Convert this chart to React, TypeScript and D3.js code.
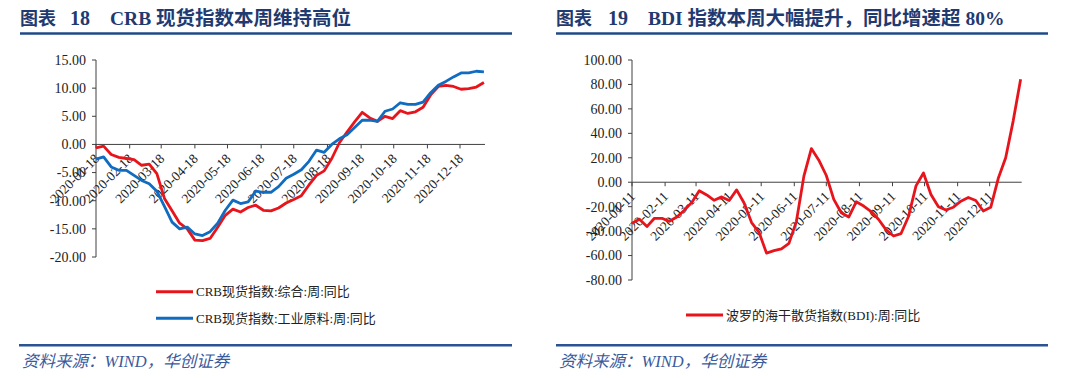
import React from "react";
import * as d3 from "d3";

// ---------- DATA ----------
const crbStart = "2020-01-18";
const crbComposite = [
  -0.6, -0.3, -1.8, -2.3, -2.5, -2.7, -3.7, -3.5, -5.2, -9.6,
  -11.8, -14.0, -15.0, -17.0, -17.1, -16.7, -14.7, -12.6, -11.5, -12.0,
  -11.2, -10.8, -11.7, -11.8, -11.3, -10.4, -9.8, -9.1, -7.2, -5.5,
  -4.7, -2.5, 0.3, 2.2, 4.0, 5.7, 4.7, 4.1, 5.0, 4.6,
  6.0, 5.5, 5.8, 6.6, 8.8, 10.3, 10.5, 10.3, 9.8, 9.9,
  10.2, 11.0,
];
const crbIndustrial = [
  -2.6, -2.2, -4.0, -4.6, -4.6, -5.5, -6.4, -7.0, -8.3, -11.0,
  -13.8, -15.0, -14.7, -15.9, -16.2, -15.5, -14.0, -11.7, -9.9, -10.5,
  -10.2, -8.3, -8.5, -8.5, -7.5, -6.0, -5.3, -4.5, -3.0, -1.0,
  -1.4, 0.0, 1.0, 1.7, 3.0, 4.3, 4.3, 4.1, 5.9, 6.3,
  7.4, 7.1, 7.1, 7.5, 9.2, 10.5, 11.2, 12.0, 12.7, 12.7,
  13.0, 12.9,
];
const crbTickLabels = [
  "2020-01-18", "2020-02-18", "2020-03-18", "2020-04-18", "2020-05-18", "2020-06-18",
  "2020-07-18", "2020-08-18", "2020-09-18", "2020-10-18", "2020-11-18", "2020-12-18",
];
const crbYTicks = [15, 10, 5, 0, -5, -10, -15, -20];

const bdiStart = "2020-01-11";
const bdiYoY = [
  -33.6, -30.3, -36.3, -29.5, -29.5, -32.0, -28.5, -23.0, -16.5, -7.0,
  -10.4, -14.8, -12.0, -15.0, -6.3, -17.0, -33.0, -41.0, -58.0, -56.0,
  -54.5, -50.0, -32.0, 5.0, 27.5, 18.0, 5.5, -14.0, -25.0, -28.5,
  -16.0, -19.5, -24.0, -30.5, -39.0, -44.0, -42.0, -28.0, -3.0, 7.5,
  -10.0, -20.0, -22.7, -20.5, -15.5, -12.5, -15.0, -23.5, -20.5, 3.0,
  20.0, 50.0, 84.2,
];
const bdiTickLabels = [
  "2020-01-11", "2020-02-11", "2020-03-11", "2020-04-11", "2020-05-11", "2020-06-11",
  "2020-07-11", "2020-08-11", "2020-09-11", "2020-10-11", "2020-11-11", "2020-12-11",
];
const bdiYTicks = [100, 80, 60, 40, 20, 0, -20, -40, -60, -80];

const leftTitleNo = "图表 18";
const leftTitle = "CRB 现货指数本周维持高位";
const rightTitleNo = "图表 19";
const rightTitle = "BDI 指数本周大幅提升，同比增速超 80%";
const legendLeft = ["CRB现货指数:综合:周:同比", "CRB现货指数:工业原料:周:同比"];
const legendRight = "波罗的海干散货指数(BDI):周:同比";
const sourceText = "资料来源：WIND，华创证券";

// ---------- STYLE ----------
const RED = "#E8141C";
const BLUE = "#0F6CC0";
const NAVY = "#1F3A70";
const AXIS = "#404040";
const SERIF = "'Liberation Serif', 'Times New Roman', 'Noto Sans CJK SC', serif";
const TITLE_FONT = "'Liberation Serif', 'Noto Sans CJK SC', serif";

const parse = d3.timeParse("%Y-%m-%d");
const weekly = (start: string, n: number) =>
  d3.range(n).map((i) => d3.timeDay.offset(parse(start) as Date, 7 * i));

type Series = { values: number[]; color: string };

function Panel(props: {
  x0: number; x1: number; yTop: number; yBot: number;
  domainStart: string; domainEnd: string; dataStart: string;
  yDomain: [number, number]; yTicks: number[]; tickLabels: string[];
  series: Series[];
}) {
  const { x0, x1, yTop, yBot, series } = props;
  const x = d3.scaleTime()
    .domain([parse(props.domainStart) as Date, parse(props.domainEnd) as Date])
    .range([x0, x1]);
  const y = d3.scaleLinear().domain(props.yDomain).range([yBot, yTop]);
  const y0 = y(0);
  const line = d3.line<[Date, number]>().x((d) => x(d[0])).y((d) => y(d[1]));
  return (
    <g>
      {/* y axis */}
      <line x1={x0} x2={x0} y1={yTop} y2={yBot} stroke={AXIS} strokeWidth={1} />
      {props.yTicks.map((t) => (
        <g key={"y" + t}>
          <line x1={x0 - 4} x2={x0} y1={y(t)} y2={y(t)} stroke={AXIS} strokeWidth={1} />
          <text x={x0 - 10} y={y(t)} dy="0.35em" textAnchor="end" fontFamily={SERIF}
            fontSize={14} fill="#222">{t.toFixed(2)}</text>
        </g>
      ))}
      {/* x axis at zero */}
      <line x1={x0} x2={x1} y1={y0} y2={y0} stroke={AXIS} strokeWidth={1} />
      {props.tickLabels.map((lab) => {
        const tx = x(parse(lab) as Date);
        return (
          <g key={lab}>
            <line x1={tx} x2={tx} y1={y0} y2={y0 + 4} stroke={AXIS} strokeWidth={1} />
            <text transform={`translate(${tx + 4},${y0 + 15}) rotate(-45)`} textAnchor="end"
              fontFamily={SERIF} fontSize={13.5} fill="#222">{lab}</text>
          </g>
        );
      })}
      {series.map((s, i) => {
        const dates = weekly(props.dataStart, s.values.length);
        const pts = dates.map((d, k) => [d, s.values[k]] as [Date, number]);
        return (
          <path key={i} d={line(pts) || ""} fill="none" stroke={s.color} strokeWidth={2.8}
            strokeLinejoin="round" strokeLinecap="butt" />
        );
      })}
    </g>
  );
}

function Header(props: { x: number; x2: number; no: string; title: string; titleX: number; noX: number }) {
  return (
    <g>
      <text x={props.x} y={25} fontFamily={TITLE_FONT} fontSize={18} fontWeight="bold" fill={NAVY}>
        {props.no.split(" ")[0]}
      </text>
      <text x={props.noX} y={25} fontFamily={TITLE_FONT} fontSize={20} fontWeight="bold" fill={NAVY}>
        {props.no.split(" ")[1]}
      </text>
      <text x={props.titleX} y={25} fontFamily={TITLE_FONT} fontSize={19.5} fontWeight="bold" fill={NAVY}>
        {props.title}
      </text>
      <line x1={props.x} x2={props.x2} y1={33.5} y2={33.5} stroke="#1F4A8A" strokeWidth={2.5} />
    </g>
  );
}

function Footer(props: { x: number; x2: number }) {
  return (
    <g>
      <line x1={props.x} x2={props.x2} y1={345.3} y2={345.3} stroke="#2B5394" strokeWidth={2.5} />
      <text x={props.x + 3} y={367} fontFamily={TITLE_FONT} fontSize={16.5} fontStyle="italic"
        fill="#3A5A9C">{sourceText}</text>
    </g>
  );
}

export default function App() {
  return (
    <svg width={1080} height={378} style={{ position: "absolute", left: 0, top: 0, background: "#fff" }}
      xmlns="http://www.w3.org/2000/svg">
      <rect x={0} y={0} width={1080} height={378} fill="#fff" />
      <Header x={20} x2={512} no={leftTitleNo} title={leftTitle} noX={70} titleX={110} />
      <Header x={556} x2={1048} no={rightTitleNo} title={rightTitle} noX={608} titleX={648} />

      <Panel x0={96} x1={485} yTop={60} yBot={257} domainStart="2020-01-18" domainEnd="2021-01-10"
        dataStart={crbStart} yDomain={[-20, 15]} yTicks={crbYTicks} tickLabels={crbTickLabels}
        series={[{ values: crbComposite, color: RED }, { values: crbIndustrial, color: BLUE }]} />
      <Panel x0={632} x1={1021.7} yTop={60} yBot={280} domainStart="2020-01-11" domainEnd="2021-01-10"
        dataStart={bdiStart} yDomain={[-80, 100]} yTicks={bdiYTicks} tickLabels={bdiTickLabels}
        series={[{ values: bdiYoY, color: RED }]} />

      {/* legends */}
      <line x1={156} x2={193} y1={291.7} y2={291.7} stroke={RED} strokeWidth={3} />
      <text x={196} y={291.7} dy="0.35em" fontFamily={SERIF} fontSize={13} fill="#222">{legendLeft[0]}</text>
      <line x1={156} x2={193} y1={318.3} y2={318.3} stroke={BLUE} strokeWidth={3} />
      <text x={196} y={318.3} dy="0.35em" fontFamily={SERIF} fontSize={13} fill="#222">{legendLeft[1]}</text>
      <line x1={686} x2={723} y1={315} y2={315} stroke={RED} strokeWidth={3} />
      <text x={726} y={315} dy="0.35em" fontFamily={SERIF} fontSize={13} fill="#222">{legendRight}</text>

      <Footer x={19} x2={512} />
      <Footer x={556} x2={1048} />
    </svg>
  );
}
